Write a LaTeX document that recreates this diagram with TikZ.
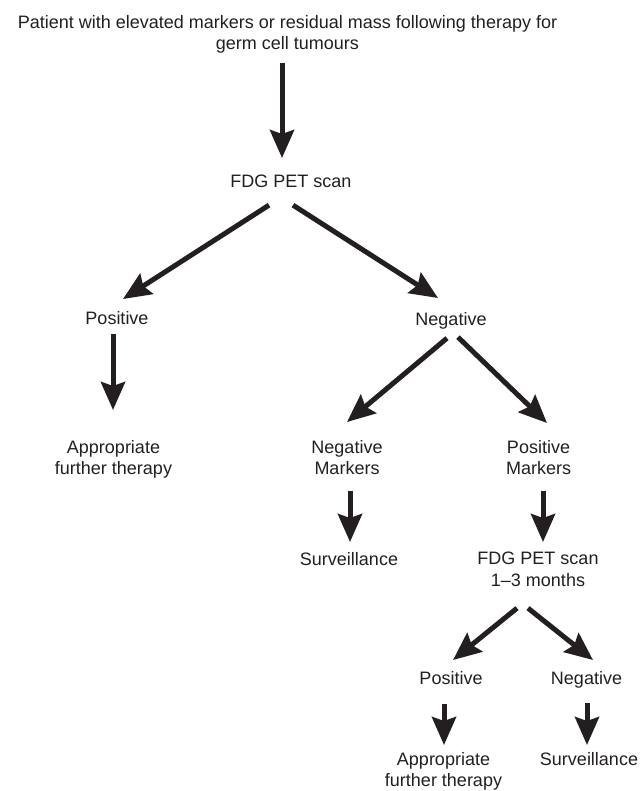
\documentclass[tikz,border=0pt]{standalone}
\usepackage{fontspec}
\setmainfont{Liberation Sans}
\usetikzlibrary{arrows.meta,positioning,calc}
\definecolor{ink}{RGB}{35,31,32}

\begin{document}
\begin{tikzpicture}[x=1pt,y=-1pt,
		txt/.style={anchor=north,inner sep=0pt,align=center,text=ink,font=\fontsize{18}{21.5}\selectfont},
		flow/.style={draw=ink,line width=5pt,-{Stealth[length=28pt,width=24pt,inset=4pt]}}]
		\useasboundingbox (0,0) rectangle (641,791);
		% first level
		\node(title) [txt] at (287.5,15) {Patient with elevated markers or residual mass following therapy for\\germ cell tumours};
		\node(fdg) [txt] at (291,175) {FDG PET scan};
		\node(pos) [txt] at (117,311) {Positive};
		\node(neg) [txt] at (451,312) {Negative};
		\node(aft) [txt] at (113.5,440) {Appropriate\\further therapy};
		% markers
		\node(negm) [txt] at (347,440) {Negative\\Markers};
		\node(posm) [txt] at (538.5,440) {Positive\\Markers};
		\node(surv) [txt] at (349,552) {Surveillance};
		\node(fdgb) [txt] at (538,552) {FDG PET scan\\1--3 months};
		% second scan
		\node(posb) [txt] at (451,671) {Positive};
		\node(negb) [txt] at (586.5,671) {Negative};
		\node(aftb) [txt] at (443.5,752) {Appropriate\\further therapy};
		\node(survb) [txt] at (589,752) {Surveillance};
		\draw [flow] ([shift={(-5.5,9.7)}]title.south) -- ([shift={(-9,-17)}]fdg.north);
		\draw [flow] ([shift={(-22,17)}]fdg.south) -- ([shift={(6,-12)}]pos.north);
		\draw [flow] ([shift={(2,17)}]fdg.south) -- ([shift={(-13,-14)}]neg.north);
		\draw [flow] ([shift={(-4,9)}]pos.south) -- ([shift={(-0.5,-30)}]aft.north);
		\draw [flow] ([shift={(-4,9)}]neg.south) -- ([shift={(0,-18)}]negm.north);
		\draw [flow] ([shift={(7,8)}]neg.south) -- ([shift={(8.5,-17)}]posm.north);
		\draw [flow] ([shift={(3,15.5)}]negm.south) -- ([shift={(1,-10)}]surv.north);
		\draw [flow] ([shift={(4.5,15.5)}]posm.south) -- ([shift={(5,-10)}]fdgb.north);
		\draw [flow] ([shift={(-21,21.5)}]fdgb.south) -- ([shift={(2,-11)}]posb.north);
		\draw [flow] ([shift={(-10,21.5)}]fdgb.south) -- ([shift={(6.5,-11)}]negb.north);
		\draw [flow] ([shift={(-7,19)}]posb.south) -- ([shift={(0.5,-7)}]aftb.north);
		\draw [flow] ([shift={(0.5,15.2)}]negb.south) -- ([shift={(-2,-7)}]survb.north);
	\end{tikzpicture}
\end{document}
